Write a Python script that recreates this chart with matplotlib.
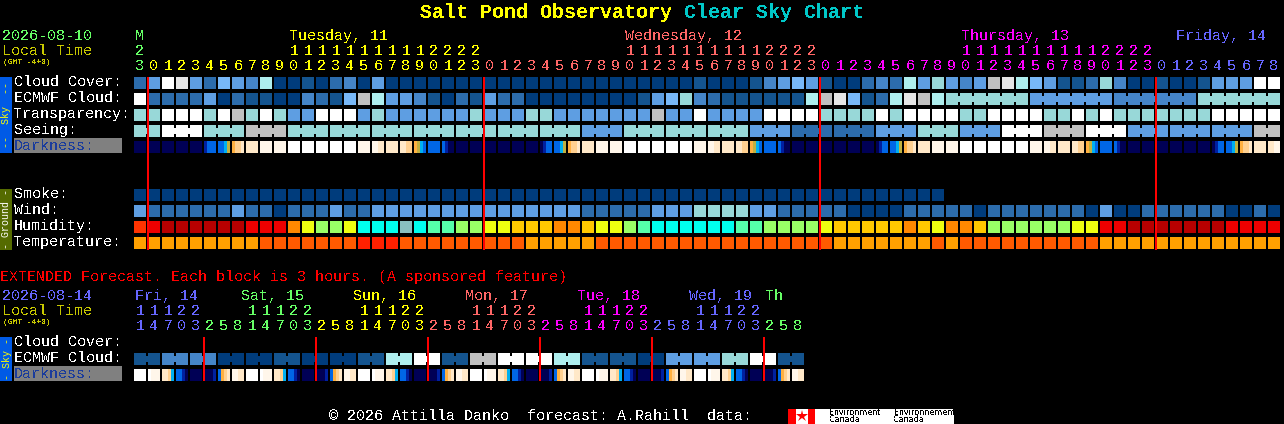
import matplotlib
matplotlib.use("Agg")
import matplotlib.pyplot as plt
import numpy as np

# the reference text is an unsmoothed bitmap font
plt.rcParams["text.antialiased"] = False

# ---------------- Data ----------------

# cloud style levels: 0 clear (deep blue) ... 10 overcast (white)
cloud_cover = [2, 4, 10, 9, 4, 2, 5, 4, 3, 7, 0, 0, 1, 0, 2, 3, 0, 4, 0, 0, 0,
               0, 0, 0, 0, 0, 0, 0, 0, 0, 0, 0, 0, 0, 0, 0, 0, 0, 0, 0, 1,
               0, 0, 0, 1, 3, 4, 5, 4, 1, 0, 0, 2, 3, 2, 7, 4, 6, 4, 3, 4,
               8, 9, 7, 5, 4, 1, 1, 2, 6, 3, 0, 0, 1, 0, 0, 1, 4, 4, 4, 10, 10]
ecmwf_hourly = [10, 2, 2, 2, 2, 4, 0, 2, 1, 1, 0, 0, 3, 2, 1, 5, 8, 7, 4, 4, 3,
                1, 0, 2, 1, 4, 2, 2, 0, 0, 0, 0, 0, 0, 0, 0, 1, 4, 5, 6, 3,
                2, 1, 1, 1, 1, 1, 1, 7, 8, 9, 5, 1, 2, 7, 9, 8, 7]
ecmwf_6h = [6, 4, 3, 6]
transparency = [6, 6, 10, 10, 10, 6, 10, 8, 6, 10, 6, 4, 4, 10, 10, 10, 4, 6, 4, 4, 4,
                4, 4, 4, 6, 4, 4, 4, 6, 6, 4, 4, 4, 4, 4, 4, 4, 8, 4, 4, 10,
                4, 4, 4, 4, 10, 10, 10, 10, 6, 6, 6, 6, 10, 6, 10, 10, 10, 10, 6, 6,
                10, 10, 10, 10, 6, 6, 10, 6, 10, 6, 6, 6, 6, 6, 6, 6, 10, 10, 10, 10, 10]
seeing = [6, 10, 6, 8, 6, 6, 6, 6, 6, 6, 6, 4, 6, 6, 6, 4, 2, 2, 4, 6, 4, 10, 8, 10, 4, 4, 4, 8]
seeing_spans = [2] + [3] * 26 + [2]
smoke = [0] * 58
wind = [4, 2, 2, 2, 2, 2, 2, 4, 2, 2, 0, 2, 2, 2, 4, 2, 2, 4, 4, 4, 4,
        4, 4, 4, 4, 4, 4, 4, 4, 4, 4, 4, 2, 2, 2, 2, 2, 4, 4, 4, 6,
        6, 6, 6, 4, 4, 2, 2, 2, 2, 2, 0, 0, 0, 0, 2, 2, 2, 2, 2, 0,
        2, 2, 2, 2, 2, 2, 2, 0, 4, 0, 0, 2, 2, 2, 2, 2, 2, 0, 0, 2, 0]
humidity = [2, 1, 0, 0, 0, 0, 0, 0, 1, 1, 1, 3, 5, 6, 6, 5, 8, 8, 8, 9, 8,
            7, 7, 6, 6, 5, 5, 4, 4, 4, 3, 3, 4, 5, 5, 6, 7, 8, 8, 8, 8,
            8, 8, 7, 7, 6, 6, 6, 6, 5, 4, 4, 4, 4, 4, 3, 4, 5, 3, 3, 4,
            6, 6, 6, 6, 6, 6, 5, 5, 1, 1, 0, 0, 0, 0, 0, 0, 0, 1, 1, 1, 1]
temperature = [0, 0, 0, 0, 0, 0, 0, 0, 0, 1, 1, 1, 1, 1, 1, 1, 2, 2, 2, 1, 1,
               1, 1, 1, 1, 1, 1, 1, 0, 0, 0, 0, 0, 1, 1, 1, 1, 1, 1, 1, 1,
               1, 1, 1, 1, 1, 1, 1, 1, 1, 0, 0, 0, 0, 0, 0, 0, 1, 0, 1, 1,
               1, 1, 1, 1, 1, 1, 1, 1, 0, 0, 0, 0, 0, 0, 0, 0, 0, 0, 0, 0, 0]

# one letter per quarter of a block
darkness = ["nnnn", "nnnn", "nnnn", "nnnn", "nnnn", "dbbb", "bbcy", "oppq", "qqqq", "rrrr", "rrrr",
            "wwww", "wwww", "wwww", "wwww", "wwww", "rrrr", "rrqq", "qqqq", "qqpp", "oycb", "bbbb",
            "bdnn", "nnnn", "nnnn", "nnnn", "nnnn", "nnnn", "nnnn", "ndbb", "bbcy", "oppq", "qqqq",
            "rrrr", "rrrr", "wwww", "wwww", "wwww", "wwww", "wwww", "rrrr", "rrqq", "qqqq", "qqpp",
            "oycb", "bbbb", "bdnn", "nnnn", "nnnn", "nnnn", "nnnn", "nnnn", "nnnn", "ndbb", "bbcy",
            "oppq", "qqqq", "rrrr", "rrrr", "wwww", "wwww", "wwww", "wwww", "wwww", "rrrr", "rrqq",
            "qqqq", "qqpp", "oycb", "bbbb", "bdnn", "nnnn", "nnnn", "nnnn", "nnnn", "nnnn", "nnnn",
            "ndbb", "bbcy", "oppq", "qqqq", "qqrr"]

ext_ecmwf = [1, 3, 3, 0, 0, 1, 0, 0, 1, 7, 10, 1, 8, 10, 10, 7, 1, 1, 0, 4, 4, 6, 10, 1]
ext_darkness = ["wwww", "wrrr", "qqpc", "bbdn", "nnnn", "nnnd", "bopq", "rrqq",
                "wwww", "wrrr", "qqpc", "bbdn", "nnnn", "nnnd", "bopq", "rrqq",
                "wwww", "wrrr", "qqpc", "bbdn", "nnnn", "nnnd", "bopq", "rrqq",
                "wwww", "wrrr", "qqpc", "bbdn", "nnnn", "nnnd", "bopq", "rrqq",
                "wwww", "wrrr", "qqpc", "bbdn", "nnnn", "nnnd", "bopq", "rrqq",
                "wwww", "wrrr", "qqpc", "bbdn", "nnnn", "nnnd", "bopq", "rrqq"]

hour_tens = "2" + (" " * 10 + "1" * 10 + "2" * 4) * 3 + " " * 9
hour_units = "3" + ("0123456789" * 2 + "0123") * 3 + "012345678"
hour_days = [1, 24, 24, 24, 9]
ext_tens = ("11122" + "   ") * 5 + "11122" + "   "
ext_units = ("14703" + "258") * 6
ext_days = [5, 8, 8, 8, 8, 8, 3]

day_names = ["M", "Tuesday, 11", "Wednesday, 12", "Thursday, 13", "Friday, 14"]
ext_day_names = ["Fri, 14", "Sat, 15", "Sun, 16", "Mon, 17", "Tue, 18", "Wed, 19", "Th"]

# ---------------- Styles ----------------

GREEN, YELLOW, SALMON, MAGENTA, PERI = "#66ff66", "#ffff00", "#ff6666", "#ff00ff", "#6666ff"

cloud_colors = ["#003c7c", "#14548f", "#2c6cac", "#4585c8", "#5e9ee2", "#78b8f8",
                "#98d8d8", "#aeeeee", "#c0c0c0", "#e6e6e6", "#ffffff"]
humidity_colors = ["#b80000", "#ee0000", "#ff3300", "#ff8800", "#ffc800", "#eeff10",
                   "#99ff66", "#55ffaa", "#00ffee", "#88bfbf"]
temperature_colors = ["#ffa000", "#ff5a00", "#ff2000"]
dark_colors = {"n": "#000055", "d": "#0020a0", "b": "#0066e6", "c": "#00b0f0", "y": "#c0b040",
               "o": "#ffb040", "p": "#ffd090", "q": "#ffe8c8", "r": "#fff6ea", "w": "#ffffff"}

X0, PITCH, CELL = 134, 14, 12
MONO = "Liberation Mono"


def px(n):
    return n * 0.72


def left(i):
    return X0 + PITCH * np.asarray(i)


def label(ax, x, y, s, color="white", size=15, **kw):
    ax.text(x, y + 1, s, color=color, fontsize=px(size), family=MONO, va="center", **kw)


def side_text(ax, y, s, color):
    ax.text(6.5, y, s, color=color, fontsize=px(10), family=MONO, rotation=90,
            ha="center", va="center", antialiased=True)


def block(ax, x, y, w, h, color):
    ax.bar(x, h, width=w, bottom=y, align="edge", color=color, linewidth=0, antialiased=False)


def draw_row(ax, values, y, colors):
    block(ax, left(np.arange(len(values))), y, CELL, CELL, [colors[v] for v in values])


def draw_groups(ax, values, spans, y, colors, start=0):
    # blocks of one forecast step are joined by a narrow bridge
    i = start
    for v, n in zip(values, spans):
        block(ax, left(np.arange(i, i + n)), y, CELL, CELL, colors[v])
        block(ax, left(np.arange(i, i + n - 1)) + CELL, y + 3, PITCH - CELL, 6, colors[v])
        i += n


def draw_darkness(ax, cells, y):
    for i, cell in enumerate(cells):
        block(ax, left(i) + 3 * np.arange(4), y, 3, CELL, [dark_colors[c] for c in cell])


def draw_header(ax, names, name_x, tens, units, spans, colors, y0):
    col_colors = np.repeat(colors, spans)
    for name, x, c in zip(names, name_x, colors):
        label(ax, x, y0, name, color=c)
    for i, (t, u) in enumerate(zip(tens, units)):
        label(ax, left(i) + 6, y0 + 15, t, color=col_colors[i], ha="center")
        label(ax, left(i) + 6, y0 + 30, u, color=col_colors[i], ha="center")


# ---------------- Figure ----------------

fig = plt.figure(figsize=(12.84, 4.24), dpi=100, facecolor="black")
ax = fig.add_axes([0, 0, 1, 1])
ax.set_xlim(0, 1284)
ax.set_ylim(424, 0)
ax.axis("off")

# title
ax.text(420, 12, "Salt Pond Observatory", color="#ffff00", fontsize=px(20), family=MONO,
        weight="bold", va="center")
ax.text(684, 12, "Clear Sky Chart", color="#00c8c8", fontsize=px(20), family=MONO,
        weight="bold", va="center")

# hourly header
label(ax, 2, 35, "2026-08-10", color=GREEN)
label(ax, 2, 50, "Local Time", color="#c8c800")
label(ax, 3, 61, "(GMT -4+0)", color="#c8c800", size=8)
draw_header(ax, day_names, [135, 289, 625, 961, 1176], hour_tens, hour_units, hour_days,
            [GREEN, YELLOW, SALMON, MAGENTA, PERI], 35)

# hourly rows
draw_row(ax, cloud_cover, 77, cloud_colors)
draw_row(ax, ecmwf_hourly, 93, cloud_colors)
draw_groups(ax, ecmwf_6h, [6] * 4, 93, cloud_colors, start=58)
draw_row(ax, transparency, 109, cloud_colors)
draw_groups(ax, seeing, seeing_spans, 125, cloud_colors)
draw_darkness(ax, darkness, 141)
draw_row(ax, smoke, 189, cloud_colors)
draw_row(ax, wind, 205, cloud_colors)
draw_row(ax, humidity, 221, humidity_colors)
draw_row(ax, temperature, 237, temperature_colors)

for name, y in zip(["Cloud Cover:", "ECMWF Cloud:", "Transparency:", "Seeing:"], [81, 97, 113, 129]):
    label(ax, 14, y, name)
for name, y in zip(["Smoke:", "Wind:", "Humidity:", "Temperature:"], [193, 209, 225, 241]):
    label(ax, 14, y, name)

block(ax, 14, 138, 108, 15, "#808080")
label(ax, 14, 145, "Darkness:", color="#1a3c9c")

block(ax, np.array([147, 483, 819, 1155]), 77, 2, 173, "#ff0000")

# side bars
block(ax, 0, 77, 12, 76, "#005ae6")
side_text(ax, 115, "--  Sky  --", "#ffff00")
block(ax, 0, 189, 12, 61, "#556b00")
side_text(ax, 219, "- Ground -", "white")
block(ax, 0, 337, 12, 44, "#005ae6")
side_text(ax, 359, "- Sky -", "#ffff00")

# extended forecast
label(ax, 0, 276, "EXTENDED Forecast. Each block is 3 hours. (A sponsored feature)", color="#ff0000")
label(ax, 2, 295, "2026-08-14", color=PERI)
label(ax, 2, 310, "Local Time", color="#c8c800")
label(ax, 3, 321, "(GMT -4+0)", color="#c8c800", size=8)
draw_header(ax, ext_day_names, [135, 241, 353, 465, 577, 689, 765], ext_tens, ext_units, ext_days,
            [PERI, GREEN, YELLOW, SALMON, MAGENTA, PERI, GREEN], 295)

for name, y in zip(["Cloud Cover:", "ECMWF Cloud:"], [341, 357]):
    label(ax, 14, y, name)
block(ax, 14, 366, 108, 15, "#808080")
label(ax, 14, 373, "Darkness:", color="#1a3c9c")

draw_groups(ax, ext_ecmwf, [2] * 24, 353, cloud_colors)
draw_darkness(ax, ext_darkness, 369)
block(ax, np.array([203, 315, 427, 539, 651, 763]), 337, 2, 44, "#ff0000")

# footer and logo
label(ax, 329, 415, "\u00a9 2026 Attilla Danko  forecast: A.Rahill  data:")
block(ax, 788, 409, 166, 15, "white")
block(ax, np.array([788, 808]), 409, np.array([8, 7]), 15, "#ff0000")
ax.plot([802], [416], marker="*", markersize=9, color="#ff0000", markeredgewidth=0)
for x, word in zip([829, 894], ["Environment", "Environnement"]):
    ax.text(x, 412.5, word, color="black", fontsize=px(8), family="DejaVu Sans", va="center")
    ax.text(x, 420, "Canada", color="black", fontsize=px(8), family="DejaVu Sans", va="center")

fig.savefig("out.png", dpi=100, facecolor="black")
